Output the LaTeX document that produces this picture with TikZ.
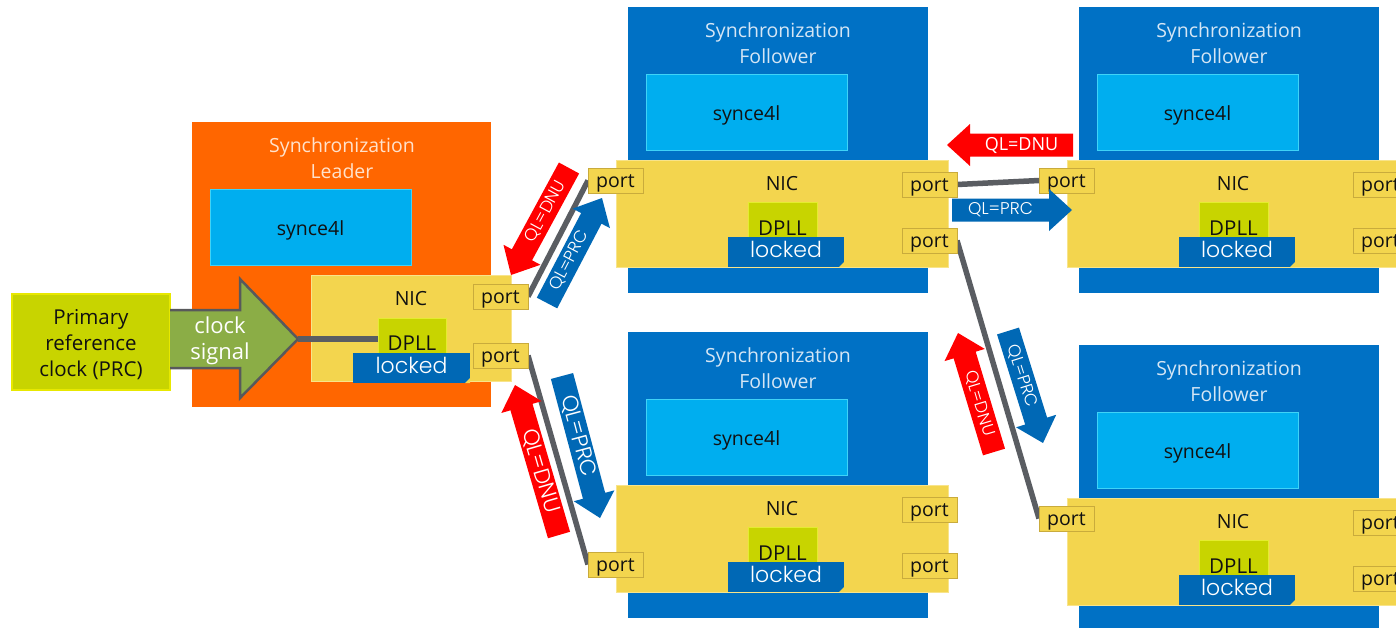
\documentclass[tikz,border=0pt]{standalone}
\usepackage{fontspec}
\setmainfont{Open Sans}
\newfontfamily\geofont{Poppins}[UprightFont=* Light]
\usetikzlibrary{calc}

\definecolor{leaderorange}{HTML}{FF6600}
\definecolor{followerblue}{HTML}{0071C5}
\definecolor{appcyan}{HTML}{00AEEF}
\definecolor{appcyanedge}{HTML}{3FD3F7}
\definecolor{nicyellow}{HTML}{F3D54E}
\definecolor{nicedge}{HTML}{F8E48A}
\definecolor{portedge}{HTML}{C9AB3C}
\definecolor{dplllime}{HTML}{C8D400}
\definecolor{dplledge}{HTML}{E4EC30}
\definecolor{prcedge}{HTML}{E8E800}
\definecolor{lockblue}{HTML}{0068B5}
\definecolor{linkgray}{HTML}{5A5D62}
\definecolor{qlred}{HTML}{FF0000}
\definecolor{qlblue}{HTML}{0068B5}
\definecolor{clockgreen}{HTML}{8BAD46}
\definecolor{clockedge}{HTML}{58595B}
\definecolor{titleonorange}{HTML}{FFE2CC}
\definecolor{titleonblue}{HTML}{D5E6F5}
\definecolor{inktext}{HTML}{111111}

\pgfdeclarelayer{canvas}
\pgfdeclarelayer{links}
\pgfsetlayers{canvas,links,main}

\newcommand\bodyfont{\fontsize{19.5}{23}\selectfont}

\tikzset{
  box/.style={rectangle, anchor=north west, inner sep=0pt, outer sep=0pt},
  hostbox/.style={box, fill=#1},
  appbox/.style={box, fill=appcyan, draw=appcyanedge, line width=1},
  nicbox/.style={box, fill=nicyellow, draw=nicedge, line width=1},
  dpllbox/.style={box, fill=dplllime, draw=dplledge, line width=1},
  lockbox/.style={box, fill=lockblue, minimum width=116, minimum height=30,
    text=white, font=\geofont\fontsize{22}{24}\selectfont, text height=16, text depth=5},
  portbox/.style={box, fill=nicyellow, draw=portedge, line width=1,
    minimum width=55, minimum height=25, text=inktext, font=\bodyfont,
    text height=15, text depth=2},
  plaintext/.style={anchor=base, inner sep=0pt, font=\bodyfont, text=inktext},
  dplltext/.style={plaintext, font=\fontsize{20.5}{23}\selectfont},
  titletext/.style={plaintext, text=#1},
  linkline/.style={draw=linkgray, line width=5.5},
  qllabel/.style={inner sep=0pt, text=white, font=#1},
}

% one follower host: #1 name prefix, #2/#3 top-left corner, #4 top of its left port
\newcommand\follower[4]{%
\begin{scope}[shift={(#2,#3)}]
  \node[hostbox=followerblue, minimum width=300, minimum height=286] (#1host) at (0,0) {};
  \node[titletext=titleonblue] (#1ta) at (150,30) {Synchronization};
  \node[titletext=titleonblue] (#1tb) at (150,56) {Follower};
  \node[appbox, minimum width=201, minimum height=76] (#1app) at (18,67) {};
  \node[plaintext] (#1appt) at (118.5,113) {synce4l};
  \node[nicbox, minimum width=332, minimum height=107] (#1nic) at (-12,153) {};
  \node[plaintext] (#1nict) at (154,183) {NIC};
  \node[dpllbox, minimum width=69, minimum height=38] (#1dpll) at (120,195) {};
  \node[dplltext] (#1dpllt) at (154.5,228) {DPLL};
  \node[lockbox] (#1lock) at (100,230) {locked};
  \fill[nicyellow] (#1lock.south east) -- ++(-5,0) -- ++(5,-5) -- cycle;
  \node[portbox] (#1pr1) at (274,165) {port};
  \node[portbox] (#1pr2) at (274,221) {port};
  \node[portbox] (#1pl) at (-40,#4) {port};
\end{scope}}

% wide quality-level arrow from (#1tail) to (#1tip): #2 colour, #3 text, #4 text angle, #5 font
\newcommand\qlarrow[5]{%
  \coordinate (#1base) at ($(#1tip)!23pt!(#1tail)$);
  \fill[#2] ($(#1tail)!11.5pt!90:(#1tip)$) -- ($(#1base)!11.5pt!90:(#1tip)$)
    -- ($(#1base)!21pt!90:(#1tip)$) -- (#1tip) -- ($(#1base)!21pt!-90:(#1tip)$)
    -- ($(#1base)!11.5pt!-90:(#1tip)$) -- ($(#1tail)!11.5pt!-90:(#1tip)$) -- cycle;
  \node[qllabel=#5, rotate=#4] (#1text) at ($(#1tail)!0.5!(#1base)$) {#3};
}

\begin{document}
\begin{tikzpicture}[x=1pt,y=-1pt]
\useasboundingbox (0,0) rectangle (1396,627);
\begin{pgfonlayer}{canvas}
  \fill[white] (0,0) rectangle (1396,627);
\end{pgfonlayer}
\clip (0,0) rectangle (1396,627);

% primary reference clock
\node[box, fill=dplllime, draw=prcedge, line width=1.5, minimum width=158, minimum height=96] (prc) at (12,294) {};
\node[plaintext, font=\fontsize{20.5}{23}\selectfont] (prca) at (91,324) {Primary};
\node[plaintext, font=\fontsize{20.5}{23}\selectfont] (prcb) at (91,350) {reference};
\node[plaintext, font=\fontsize{20.5}{23}\selectfont] (prcc) at (91,376) {clock (PRC)};

% synchronization leader
\node[hostbox=leaderorange, minimum width=299, minimum height=285] (leader) at (192,122) {};
\node[titletext=titleonorange] (leadta) at (342,152) {Synchronization};
\node[titletext=titleonorange] (leadtb) at (342,178) {Leader};
\node[appbox, minimum width=201, minimum height=76] (lapp) at (210,189) {};
\node[plaintext] (lappt) at (310.5,235) {synce4l};

% clock signal arrow
\coordinate (clktip) at (298,339);
\fill[clockgreen] (170,310) -- (240,310) -- (240,279) -- (clktip) -- (240,398) -- (240,368) -- (170,368) -- cycle;
\draw[clockedge, line width=2.5, line join=miter] (170,310) -- (240,310) -- (240,279) -- (clktip) -- (240,398) -- (240,368) -- (170,368);
\node[plaintext, text=white, font=\fontsize{22}{24}\selectfont] (clka) at (220,333) {clock};
\node[plaintext, text=white, font=\fontsize{22}{24}\selectfont] (clkb) at (220,359) {signal};

\node[nicbox, minimum width=200, minimum height=106] (lnic) at (311,275) {};
\node[plaintext] (lnict) at (411,305) {NIC};
\node[dpllbox, minimum width=68, minimum height=38] (ldpll) at (378,318) {};
\draw[linkline] (clktip) -- (clktip -| ldpll.west);
\node[dplltext] (ldpllt) at (412,350) {DPLL};
\node[lockbox, minimum width=117] (llock) at (353,353) {locked};
\fill[nicyellow] (llock.south east) -- ++(-5,0) -- ++(5,-5) -- cycle;
\node[portbox] (lp1) at (473,284) {port};
\node[portbox] (lp2) at (473,343) {port};

% synchronization followers
\follower{fa}{628}{7}{161}
\follower{fb}{628}{332}{220}
\follower{fc}{1079}{7}{161}
\follower{fd}{1079}{345}{161}

% network links between ports
\begin{pgfonlayer}{links}
  \draw[linkline] (lp1.east) -- (fapl.west);
  \draw[linkline] (lp2.east) -- (fbpl.west);
  \draw[linkline] (fapr1.east) -- (fcpl.west);
  \draw[linkline] (fapr2.east) -- (fdpl.west);
\end{pgfonlayer}

% quality level messages along the links
\coordinate (qaatail) at (569,168); \coordinate (qaatip) at (511,275);
\qlarrow{qaa}{qlred}{QL=DNU}{61.5}{\geofont\fontsize{17}{19}\selectfont}
\coordinate (qabtail) at (547,303); \coordinate (qabtip) at (602,198);
\qlarrow{qab}{qlblue}{QL=PRC}{62.4}{\geofont\fontsize{17}{19}\selectfont}
\coordinate (qbatail) at (559,535); \coordinate (qbatip) at (515,385);
\qlarrow{qba}{qlred}{QL=DNU}{-73.7}{\geofont\fontsize{22}{24}\selectfont}
\coordinate (qbbtail) at (562,376); \coordinate (qbbtip) at (600,518);
\qlarrow{qbb}{qlblue}{QL=PRC}{-75}{\geofont\fontsize{22}{24}\selectfont}
\coordinate (qcatail) at (1073,145); \coordinate (qcatip) at (947,145);
\qlarrow{qca}{qlred}{QL=DNU}{0}{\fontsize{18}{20}\selectfont}
\coordinate (qcbtail) at (952,210); \coordinate (qcbtip) at (1072,210);
\qlarrow{qcb}{qlblue}{QL=PRC}{0}{\geofont\fontsize{17}{19}\selectfont}
\coordinate (qdatail) at (994,452); \coordinate (qdatip) at (958,333);
\qlarrow{qda}{qlred}{QL=DNU}{-73.2}{\geofont\fontsize{17}{19}\selectfont}
\coordinate (qdbtail) at (1008,331); \coordinate (qdbtip) at (1043,443);
\qlarrow{qdb}{qlblue}{QL=PRC}{-72.6}{\geofont\fontsize{17}{19}\selectfont}
\end{tikzpicture}
\end{document}
